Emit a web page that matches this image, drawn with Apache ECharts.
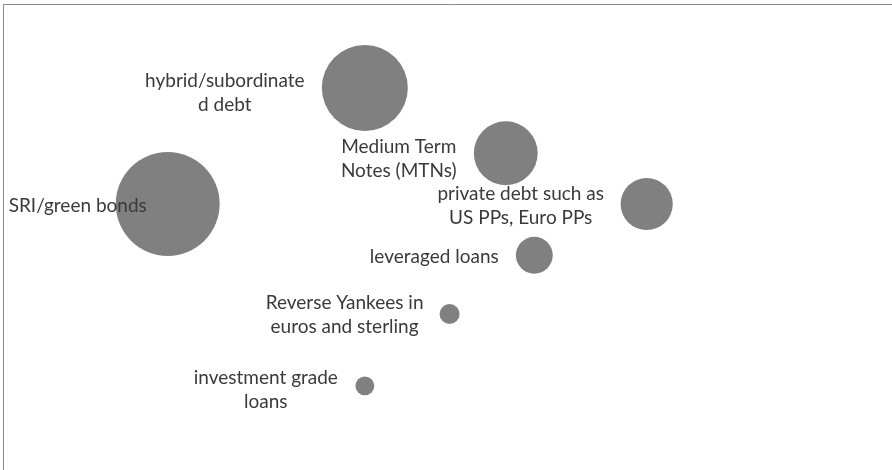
<!DOCTYPE html>
<html>
<head>
<meta charset="utf-8">
<script src="https://cdn.jsdelivr.net/npm/echarts@6/dist/echarts.min.js"></script>
<style>html,body{margin:0;padding:0;background:#fff}#c{width:892px;height:470px}</style>
</head>
<body>
<div id="c"></div>
<script>
const categories = [
  'SRI/green bonds',
  'hybrid/subordinate\nd debt',
  'Medium Term\nNotes (MTNs)',
  'private debt such as\nUS PPs, Euro PPs',
  'leveraged loans',
  'Reverse Yankees in\neuros and sterling',
  'investment grade\nloans'
];
const xValues = [18.8, 40.9, 56.7, 72.5, 59.9, 50.4, 40.9];
const yValues = [56.6, 81.3, 67.4, 56.6, 45.7, 33.2, 17.9];
const bubbleSizes = [27, 18.5, 10.2, 6.8, 3.4, 1.0, 0.9];

// label layout (offset of label centre from bubble centre, px)
const labelOffsets = [[-90, 2], [-140, 5], [-107, 6], [-126, 2], [-100, 2], [-105, 1], [-99, 4]];

const chart = echarts.init(document.getElementById('c'), null, {renderer: 'canvas'});
const data = categories.map((n, i) => ({
  name: n,
  value: [xValues[i], yValues[i], bubbleSizes[i]]
}));
chart.setOption({
  animation: false,
  backgroundColor: '#fff',
  grid: {left: 0, right: 0, top: 0, bottom: 0},
  xAxis: {type: 'value', min: 0, max: 100, show: false},
  yAxis: {type: 'value', min: 0, max: 100, show: false},
  graphic: [{
    type: 'rect', z: 100, silent: true,
    shape: {x: 3.5, y: 4.5, width: 1000, height: 1000},
    style: {fill: null, stroke: '#8a8a8a', lineWidth: 1}
  }],
  series: [{
    type: 'scatter',
    data: data,
    symbol: 'circle',
    symbolSize: v => 20 * Math.sqrt(v[2]),
    itemStyle: {color: '#808080', opacity: 1},
    label: {
      show: true,
      position: 'inside',
      formatter: p => p.name,
      color: '#3a3a3a',
      fontFamily: 'Lato',
      fontSize: 19,
      lineHeight: 24,
      align: 'center',
      verticalAlign: 'middle'
    },
    labelLayout: p => ({
      dx: labelOffsets[p.dataIndex][0],
      dy: labelOffsets[p.dataIndex][1],
      hideOverlap: false
    }),
    z: 2
  }]
});
</script>
</body>
</html>
